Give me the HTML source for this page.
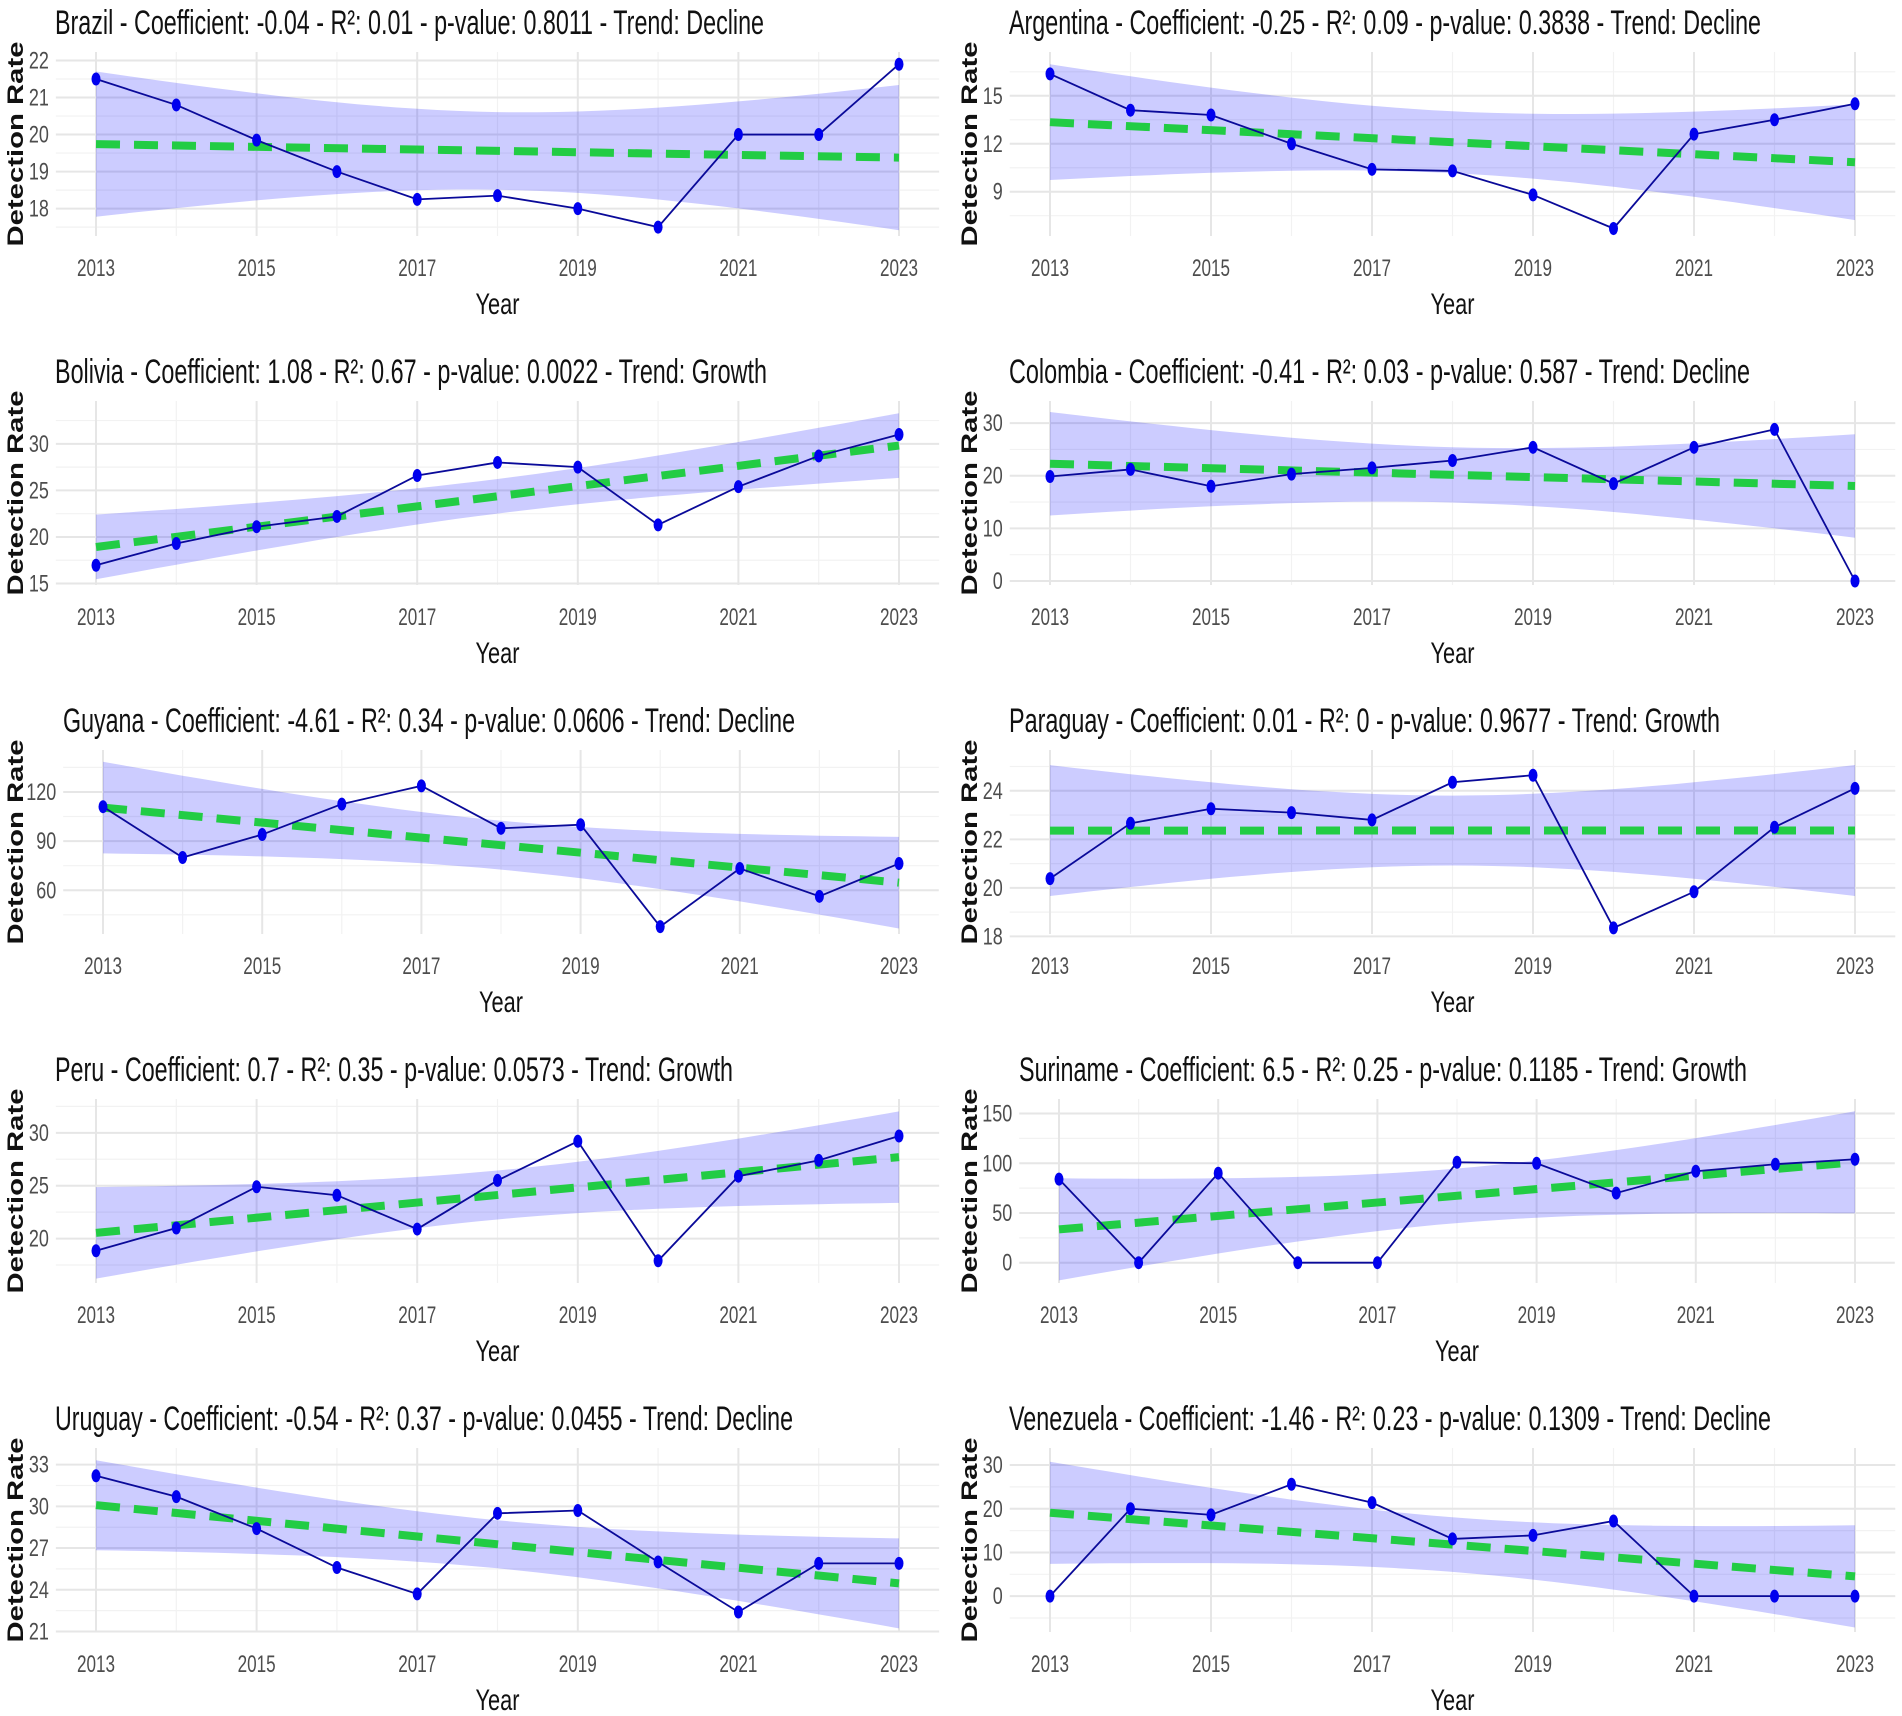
<!DOCTYPE html>
<html><head><meta charset="utf-8"><style>
html,body{margin:0;padding:0;background:#fff;}
svg{display:block;}
text{font-family:"Liberation Sans",sans-serif;}
</style></head><body>
<svg id="chart" width="1902" height="1716" viewBox="0 0 1902 1716" xmlns="http://www.w3.org/2000/svg"></svg>
<script>
const years = [2013,2014,2015,2016,2017,2018,2019,2020,2021,2022,2023];
const xTickLabels = ["2013","2015","2017","2019","2021","2023"];
const brazil    = [21.5,20.8,19.85,19.0,18.25,18.35,18.0,17.5,20.0,20.0,21.9];
const argentina = [16.37,14.1,13.8,12.0,10.4,10.3,8.8,6.7,12.6,13.5,14.5];
const bolivia   = [16.96,19.3,21.1,22.2,26.6,28.0,27.5,21.3,25.4,28.7,31.0];
const colombia  = [19.85,21.2,18.0,20.3,21.5,22.9,25.4,18.5,25.4,28.8,0];
const guyana    = [111,80,94,112.6,123.7,97.8,100,37.8,73.3,56.3,76.3];
const paraguay  = [20.38,22.66,23.26,23.1,22.8,24.35,24.64,18.35,19.84,22.5,24.1];
const peru      = [18.85,21.0,24.9,24.1,20.9,25.5,29.2,17.9,25.9,27.4,29.7];
const suriname  = [84,0,90,0,0,101,100,70,92,99,104];
const uruguay   = [32.2,30.7,28.4,25.6,23.7,29.5,29.7,26.0,22.4,25.9,25.9];
const venezuela = [0,20,18.6,25.6,21.4,13.1,13.9,17.2,0,0,0];
const titles = [
 "Brazil - Coefficient: -0.04 - R²: 0.01 - p-value: 0.8011 - Trend: Decline",
 "Argentina - Coefficient: -0.25 - R²: 0.09 - p-value: 0.3838 - Trend: Decline",
 "Bolivia - Coefficient: 1.08 - R²: 0.67 - p-value: 0.0022 - Trend: Growth",
 "Colombia - Coefficient: -0.41 - R²: 0.03 - p-value: 0.587 - Trend: Decline",
 "Guyana - Coefficient: -4.61 - R²: 0.34 - p-value: 0.0606 - Trend: Decline",
 "Paraguay - Coefficient: 0.01 - R²: 0 - p-value: 0.9677 - Trend: Growth",
 "Peru - Coefficient: 0.7 - R²: 0.35 - p-value: 0.0573 - Trend: Growth",
 "Suriname - Coefficient: 6.5 - R²: 0.25 - p-value: 0.1185 - Trend: Growth",
 "Uruguay - Coefficient: -0.54 - R²: 0.37 - p-value: 0.0455 - Trend: Decline",
 "Venezuela - Coefficient: -1.46 - R²: 0.23 - p-value: 0.1309 - Trend: Decline"
];
const yTicks = [[18,19,20,21,22],[9,12,15],[15,20,25,30],[0,10,20,30],[60,90,120],[18,20,22,24],[20,25,30],[0,50,100,150],[21,24,27,30,33],[0,10,20,30]];
const yDomains = [[17.26,22.23],[6.23,17.74],[14.84,34.6],[-0.76,34.2],[33.3,145.6],[18.1,25.68],[15.8,33.2],[-20.4,164.6],[20.96,34.2],[-8.2,33.9]];
const series = [brazil,argentina,bolivia,colombia,guyana,paraguay,peru,suriname,uruguay,venezuela];
const names = ["brazil","argentina","bolivia","colombia","guyana","paraguay","peru","suriname","uruguay","venezuela"];

// layout (not data)
const titleX = [55,1009,55,1009,63,1009,55,1019,55,1009];
const titleW = [709,752,712,741,732,711,678,728,738,762];
const x2013 = [96,1050,96,1050,103,1050,96,1059,96,1050];
const x2023 = [899,1855,899,1855,899,1855,899,1855,899,1855];
const ytitleX = [15,969];

const svg = document.getElementById('chart');
const NS = "http://www.w3.org/2000/svg";
function mk(tag, attrs, parent){const e=document.createElementNS(NS,tag);for(const k in attrs)e.setAttribute(k,attrs[k]);(parent||svg).appendChild(e);return e;}

function lm(xs, ys){
  const n=xs.length; const mx=xs.reduce((a,b)=>a+b)/n; const my=ys.reduce((a,b)=>a+b)/n;
  let sxx=0,sxy=0; xs.forEach((x,i)=>{sxx+=(x-mx)**2;sxy+=(x-mx)*(ys[i]-my);});
  const b=sxy/sxx, a=my-b*mx; let rss=0; xs.forEach((x,i)=>{rss+=(ys[i]-a-b*x)**2;});
  const s=Math.sqrt(rss/(n-2)); return {a,b,s,mx,sxx,n};
}

for(let p=0;p<10;p++){
  const col=p%2, row=Math.floor(p/2);
  const g=mk('g',{});
  
  
  const top=52+349*row, bot=236+349*row;
  const pxPerYear=(x2023[p]-x2013[p])/10;
  const X=v=>x2013[p]+(v-2013)*pxPerYear;
  const [ymin,ymax]=yDomains[p];
  const Y=v=>bot-(v-ymin)/(ymax-ymin)*(bot-top);
  const left=X(2012.5), right=X(2023.5);
  const t=yTicks[p];
  const step=t[1]-t[0];
  for(let v=t[0]-step/2; v<=ymax; v+=step){ if(v>=ymin){ const l=mk('line',{x1:left,x2:right,y1:Y(v),y2:Y(v),stroke:'#f2f2f2','stroke-width':1.2},g);   } }
  for(let yr=2014; yr<=2022; yr+=2){ const l=mk('line',{x1:X(yr),x2:X(yr),y1:top,y2:bot,stroke:'#f2f2f2','stroke-width':1.2},g);   }
  t.forEach(v=>{ const l=mk('line',{x1:left,x2:right,y1:Y(v),y2:Y(v),stroke:'#e6e6e6','stroke-width':2},g);  
    const tx=mk('text',{x:left-7,y:Y(v)+8,'text-anchor':'end','font-size':24,fill:'#4d4d4d',textLength:String(v).length*10,lengthAdjust:'spacingAndGlyphs'},g); tx.textContent=v;   });
  xTickLabels.forEach(s=>{ const yr=+s; const l=mk('line',{x1:X(yr),x2:X(yr),y1:top,y2:bot,stroke:'#e6e6e6','stroke-width':2},g);  
    const tx=mk('text',{x:X(yr),y:276+349*row,'text-anchor':'middle','font-size':24,fill:'#4d4d4d',textLength:38,lengthAdjust:'spacingAndGlyphs'},g); tx.textContent=s;   });
  const ys=series[p]; const f=lm(years,ys); const tq=2.262;
  const up=[],lo=[];
  for(let i=0;i<=40;i++){ const x=2013+i*0.25; const fit=f.a+f.b*x; const se=f.s*Math.sqrt(1/f.n+(x-f.mx)**2/f.sxx);
    up.push(X(x).toFixed(1)+','+Y(fit+tq*se).toFixed(1)); lo.unshift(X(x).toFixed(1)+','+Y(fit-tq*se).toFixed(1)); }
  const rib=mk('polygon',{points:up.concat(lo).join(' '),fill:'#0000ff','fill-opacity':0.2},g);
   
  const tl=mk('line',{x1:X(2013),y1:Y(f.a+f.b*2013),x2:X(2023),y2:Y(f.a+f.b*2023),stroke:'#22cc44','stroke-width':8,'stroke-dasharray':'24 14'},g);
   
  const pl=mk('polyline',{points:years.map((yr,i)=>X(yr)+','+Y(ys[i])).join(' '),fill:'none',stroke:'#0a0a99','stroke-width':1.8},g);
   
  years.forEach((yr,i)=>{ const c=mk('ellipse',{cx:X(yr),cy:Y(ys[i]),rx:4.5,ry:6.5,fill:'#0000ee'},g);
      });
  const tt=mk('text',{x:titleX[p],y:34+349*row,'font-size':34,fill:'#111',textLength:titleW[p],lengthAdjust:'spacingAndGlyphs'},g); tt.textContent=titles[p];
   
  const xt=mk('text',{x:(left+right)/2,y:314+349*row,'text-anchor':'middle','font-size':30,fill:'#111',textLength:44,lengthAdjust:'spacingAndGlyphs'},g); xt.textContent='Year';
   
  const cy=(top+bot)/2;
  const yt=mk('text',{x:0,y:0,'text-anchor':'middle','font-size':22,'font-weight':'bold',fill:'#111',textLength:205,lengthAdjust:'spacingAndGlyphs',transform:'translate('+(ytitleX[col]+8)+','+cy+') rotate(-90)'},g); yt.textContent='Detection Rate';
   
}
</script>
</body></html>
